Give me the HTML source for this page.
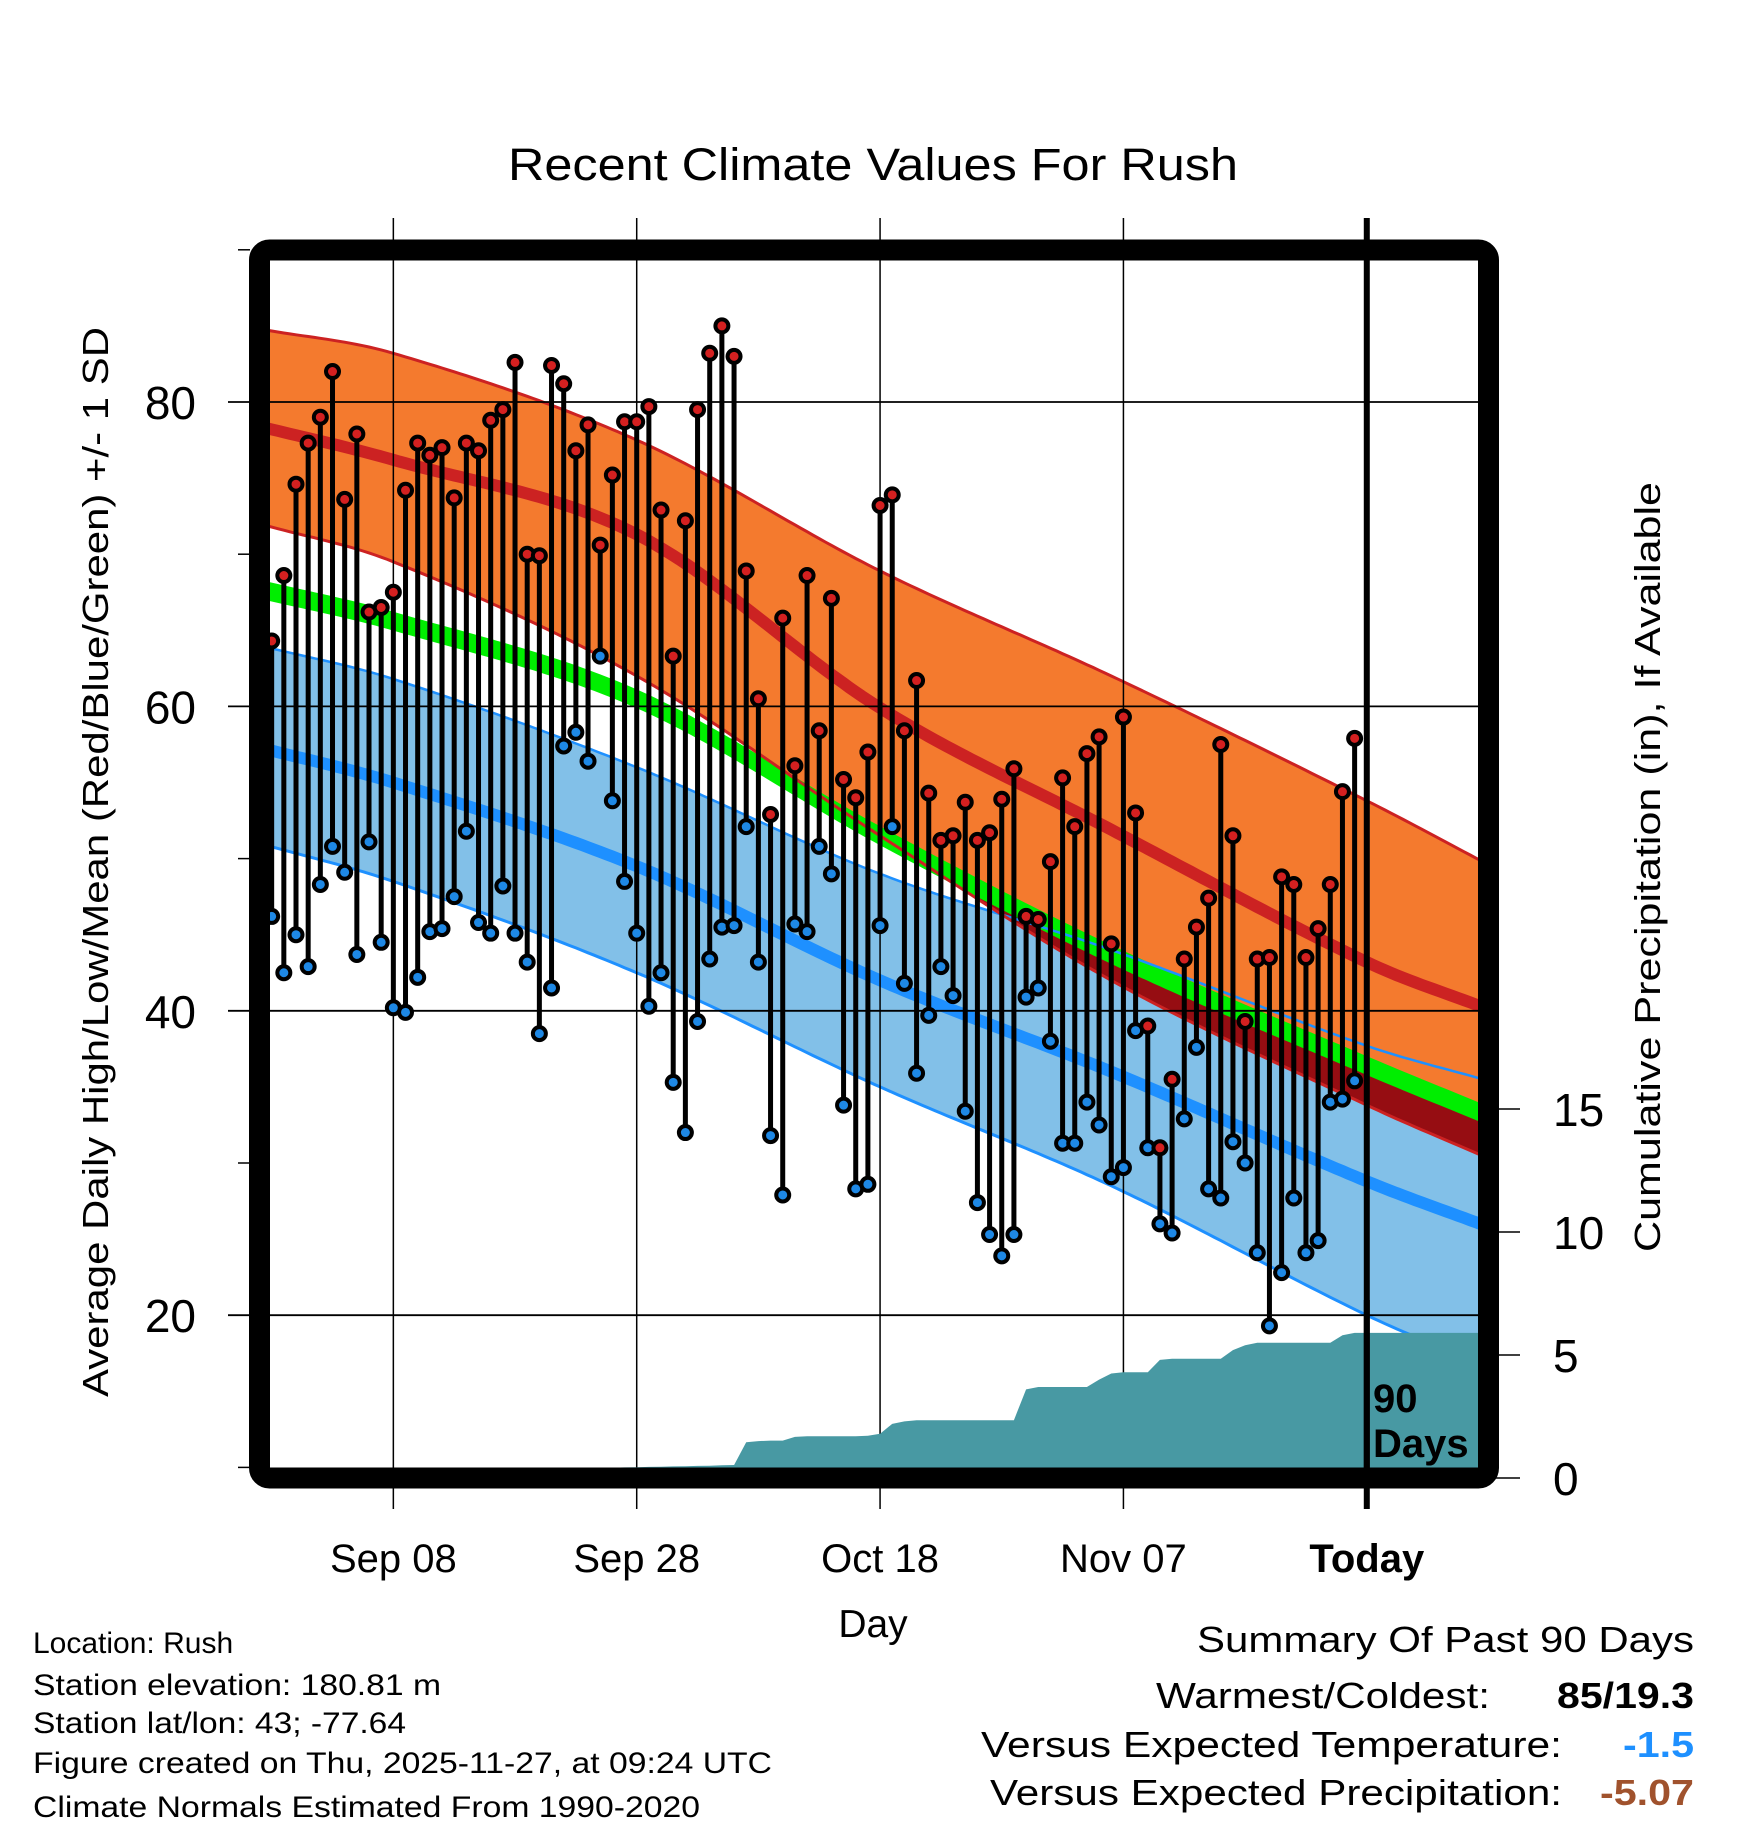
<!DOCTYPE html>
<html><head><meta charset="utf-8"><style>
html,body{margin:0;padding:0;background:#fff;}
svg{display:block;font-family:"Liberation Sans",Arial,sans-serif;}
</style></head><body>
<svg id="chart" width="1748" height="1828" viewBox="0 0 1748 1828" xmlns="http://www.w3.org/2000/svg">
<defs><clipPath id="plotclip"><rect x="259.5" y="250" width="1229" height="1228"/></clipPath></defs>
<rect width="1748" height="1828" fill="#fff"/>
<text x="873" y="180" font-size="45" text-anchor="middle" textLength="730" lengthAdjust="spacingAndGlyphs">Recent Climate Values For Rush</text>
<g id="bands" clip-path="url(#plotclip)"></g>
<g id="grid"></g>
<g id="marks" clip-path="url(#plotclip)"></g>
<g id="precip" clip-path="url(#plotclip)"></g>
<g id="axes"></g>
<rect x="259.5" y="250" width="1229" height="1228" rx="10" fill="none" stroke="#000" stroke-width="21"/>
<text x="1373" y="1412" font-size="40" font-weight="bold">90</text>
<text x="1373" y="1457" font-size="40" font-weight="bold">Days</text>
<text transform="translate(108,862) rotate(-90)" font-size="36" text-anchor="middle" textLength="1070" lengthAdjust="spacingAndGlyphs">Average Daily High/Low/Mean (Red/Blue/Green) +/- 1 SD</text>
<text transform="translate(1660,867) rotate(-90)" font-size="36" text-anchor="middle" textLength="770" lengthAdjust="spacingAndGlyphs">Cumulative Precipitation (in), If Available</text>
<text x="873" y="1637" font-size="39" text-anchor="middle">Day</text>
<g font-size="30">
<text x="33" y="1653">Location: Rush</text>
<text x="33" y="1695" textLength="408" lengthAdjust="spacingAndGlyphs">Station elevation: 180.81 m</text>
<text x="33" y="1733" textLength="373" lengthAdjust="spacingAndGlyphs">Station lat/lon: 43; -77.64</text>
<text x="33" y="1773" textLength="739" lengthAdjust="spacingAndGlyphs">Figure created on Thu, 2025-11-27, at 09:24 UTC</text>
<text x="33" y="1817" textLength="667" lengthAdjust="spacingAndGlyphs">Climate Normals Estimated From 1990-2020</text>
</g>
<g font-size="36">
<text x="1694" y="1652" text-anchor="end" textLength="497" lengthAdjust="spacingAndGlyphs">Summary Of Past 90 Days</text>
<text x="1490" y="1708" text-anchor="end" textLength="334" lengthAdjust="spacingAndGlyphs">Warmest/Coldest:</text>
<text x="1694" y="1708" text-anchor="end" font-weight="bold" textLength="137" lengthAdjust="spacingAndGlyphs">85/19.3</text>
<text x="1562" y="1757" text-anchor="end" textLength="581" lengthAdjust="spacingAndGlyphs">Versus Expected Temperature:</text>
<text x="1694" y="1757" text-anchor="end" font-weight="bold" fill="#1e90ff" textLength="71" lengthAdjust="spacingAndGlyphs">-1.5</text>
<text x="1562" y="1805" text-anchor="end" textLength="572" lengthAdjust="spacingAndGlyphs">Versus Expected Precipitation:</text>
<text x="1694" y="1805" text-anchor="end" font-weight="bold" fill="#a0522d" textLength="94" lengthAdjust="spacingAndGlyphs">-5.07</text>
</g>
</svg>
<script>
// ---- data ----
const highs = [64.3,68.6,74.6,77.3,79.0,82.0,73.6,77.9,66.2,66.5,67.5,74.2,77.3,76.5,77.0,73.7,77.3,76.8,78.8,79.5,82.6,70.0,69.9,82.4,81.2,76.8,78.5,70.6,75.2,78.7,78.7,79.7,72.9,63.3,72.2,79.5,83.2,85.0,83.0,68.9,60.5,52.9,65.8,56.1,68.6,58.4,67.1,55.2,54.0,57.0,73.2,73.9,58.4,61.7,54.3,51.2,51.5,53.7,51.2,51.7,53.9,55.9,46.2,46.0,49.8,55.3,52.1,56.9,58.0,44.4,59.3,53.0,39.0,31.0,35.5,43.4,45.5,47.4,57.5,51.5,39.3,43.4,43.5,48.8,48.3,43.5,45.4,48.3,54.4,57.9];
const lows = [46.2,42.5,45.0,42.9,48.3,50.8,49.1,43.7,51.1,44.5,40.2,39.9,42.2,45.2,45.4,47.5,51.8,45.8,45.1,48.2,45.1,43.2,38.5,41.5,57.4,58.3,56.4,63.3,53.8,48.5,45.1,40.3,42.5,35.3,32.0,39.3,43.4,45.5,45.6,52.1,43.2,31.8,27.9,45.7,45.2,50.8,49.0,33.8,28.3,28.6,45.6,52.1,41.8,35.9,39.7,42.9,41.0,33.4,27.4,25.3,23.9,25.3,40.9,41.5,38.0,31.3,31.3,34.0,32.5,29.1,29.7,38.7,31.0,26.0,25.4,32.9,37.6,28.3,27.7,31.4,30.0,24.1,19.3,22.8,27.7,24.1,24.9,34.0,34.2,35.4];
const precipCum = [0,0,0,0,0,0,0,0,0,0,0,0,0,0,0,0,0,0,0,0,0,0,0,0,0,0,0,0,0.42,0.43,0.44,0.45,0.46,0.47,0.48,0.49,0.5,0.52,0.53,1.45,1.5,1.52,1.52,1.67,1.7,1.7,1.7,1.7,1.7,1.72,1.8,2.2,2.3,2.35,2.35,2.35,2.35,2.35,2.35,2.35,2.35,2.35,3.6,3.7,3.7,3.7,3.7,3.7,4.0,4.25,4.3,4.3,4.3,4.8,4.85,4.85,4.85,4.85,4.85,5.2,5.4,5.5,5.5,5.5,5.5,5.5,5.5,5.5,5.8,5.9];
const normDays = [-91,-80,-60,-40,-21,0,10];
const hiUpper = [84.8,83.2,77.5,68.9,62.0,53.8,49.6];
const hiMean  = [78.4,76.2,71.3,59.9,51.9,43.2,40.1];
const hiLower = [72.0,69.5,62.0,51.5,42.0,33.8,30.3];
const meanNorm= [67.7,65.6,60.5,51.5,43.7,36.4,33.1];
const loUpper = [64.0,61.8,56.0,49.0,44.0,37.7,35.4];
const loMean  = [57.3,55.0,49.5,42.0,36.0,28.8,25.8];
const loLower = [51.0,48.5,42.5,35.0,28.5,20.0,16.6];
const yTicks = [20,40,60,80];
const yMinor = [10,30,50,70,90];
const precipTicks = [0,5,10,15];
const dateLabels = ["Sep 08","Sep 28","Oct 18","Nov 07","Today"];
const dateOffsets = [-80,-60,-40,-20,0];

// ---- scales ----
const X0=259.5, PXD=12.168;
function xs(d){return X0+(d+91)*PXD;}
function ys(v){return 402+(80-v)*15.22;}
function yp(p){return 1478-p*24.6;}
const NS='http://www.w3.org/2000/svg';
function mk(tag,attrs,parent){const e=document.createElementNS(NS,tag);for(const k in attrs)e.setAttribute(k,attrs[k]);parent.appendChild(e);return e;}

function interp(vals){ // cubic Hermite with non-uniform tangents
  const n=normDays.length, m=[];
  for(let k=0;k<n;k++){
    const a=Math.max(k-1,0), b=Math.min(k+1,n-1);
    m.push((vals[b]-vals[a])/(normDays[b]-normDays[a]));
  }
  const out=[];
  for(let d=-92; d<=11; d+=0.5){
    let k=0; while(k<n-2 && d>normDays[k+1]) k++;
    const h=normDays[k+1]-normDays[k];
    const t=(d-normDays[k])/h, t2=t*t, t3=t2*t;
    const v=(2*t3-3*t2+1)*vals[k]+(t3-2*t2+t)*h*m[k]+(-2*t3+3*t2)*vals[k+1]+(t3-t2)*h*m[k+1];
    out.push([d,v]);
  }
  return out;
}
function linePts(arr){return arr.map(p=>xs(p[0]).toFixed(1)+','+ys(p[1]).toFixed(1)).join(' ');}
function bandPts(a,b){return linePts(a)+' '+linePts(b.slice().reverse());}

const bands=document.getElementById('bands');
const HU=interp(hiUpper),HM=interp(hiMean),HL=interp(hiLower),MN=interp(meanNorm),LU=interp(loUpper),LM=interp(loMean),LL=interp(loLower);
let e;
e=mk('polygon',{points:bandPts(LU,LL),fill:'#82c0e8'},bands);


e=mk('polygon',{points:bandPts(HU,HL),fill:'#f47a2e'},bands);


const ovTop=MN, ovBot=MN.map((p,i)=>[p[0],Math.min(p[1],Math.max(HL[i][1],LL[i][1]))]);
e=mk('polygon',{points:bandPts(ovTop,ovBot),fill:'#960d12'},bands);


const MNu=MN.map(p=>[p[0],p[1]+0.62]), MNl=MN.map(p=>[p[0],p[1]-0.62]);
e=mk('polygon',{points:bandPts(MNu,MNl),fill:'#00ee00'},bands);


e=mk('polyline',{points:linePts(LU),fill:'none',stroke:'#1e90ff','stroke-width':2.5},bands);


e=mk('polyline',{points:linePts(LL),fill:'none',stroke:'#1e90ff','stroke-width':3},bands);


e=mk('polyline',{points:linePts(HU),fill:'none',stroke:'#cc2222','stroke-width':3},bands);


e=mk('polyline',{points:linePts(HL),fill:'none',stroke:'#cc2222','stroke-width':3},bands);


e=mk('polyline',{points:linePts(HM),fill:'none',stroke:'#cc2222','stroke-width':12},bands);


e=mk('polyline',{points:linePts(LM),fill:'none',stroke:'#1e90ff','stroke-width':12},bands);



// ---- grid & axes ----
const grid=document.getElementById('grid'), axes=document.getElementById('axes');
yTicks.forEach(v=>{
  e=mk('line',{x1:228,x2:1478,y1:ys(v),y2:ys(v),stroke:'#000','stroke-width':1.8},grid);
  
  
  e=mk('text',{x:196,y:ys(v)+17,'font-size':46,'text-anchor':'end'},axes);
  e.textContent=String(v);
  
  
});
yMinor.forEach(v=>{
  e=mk('line',{x1:238,x2:250,y1:ys(v),y2:ys(v),stroke:'#000','stroke-width':1.5},axes);
  
  
});
dateOffsets.forEach((d,i)=>{
  const x=xs(d), isToday=(d===0);
  e=mk('line',{x1:x,x2:x,y1:218,y2:1509,stroke:'#000','stroke-width':isToday?6:1.5},isToday?axes:grid);
  
  
  e=mk('text',{x:x,y:1572,'font-size':40,'text-anchor':'middle','font-weight':isToday?'bold':'normal'},axes);
  e.textContent=dateLabels[i];
  
  
});
precipTicks.forEach(p=>{
  e=mk('line',{x1:1495,x2:1520,y1:yp(p),y2:yp(p),stroke:'#000','stroke-width':1.5},axes);
  
  
  e=mk('text',{x:1553,y:yp(p)+17,'font-size':46},axes);
  e.textContent=String(p);
  
  
});

// ---- daily stems ----
const marks=document.getElementById('marks');
highs.forEach((h,i)=>{
  const x=xs(i-90), l=lows[i];
  e=mk('line',{x1:x,x2:x,y1:ys(h),y2:ys(l),stroke:'#000','stroke-width':5},marks);
  
  
});
highs.forEach((h,i)=>{
  const x=xs(i-90);
  e=mk('circle',{cx:x,cy:ys(lows[i]),r:6.5,fill:'#1e88e5',stroke:'#000','stroke-width':4},marks);
  
  
  e=mk('circle',{cx:x,cy:ys(h),r:6.5,fill:'#d42020',stroke:'#000','stroke-width':4},marks);
  
  
});

// ---- precipitation area ----
const pg=document.getElementById('precip');
let pts=[xs(-92)+','+yp(0), xs(-92)+','+yp(precipCum[0])];
precipCum.forEach((p,i)=>{pts.push(xs(i-90).toFixed(1)+','+yp(p).toFixed(1));});
const last=precipCum[precipCum.length-1];
pts.push(xs(12)+','+yp(last)); pts.push(xs(12)+','+yp(0));
e=mk('polygon',{points:pts.join(' '),fill:'#4899a3'},pg);


e=mk('line',{x1:xs(0),x2:xs(0),y1:1300,y2:1478,stroke:'#000','stroke-width':6},pg);


</script>
</body></html>
